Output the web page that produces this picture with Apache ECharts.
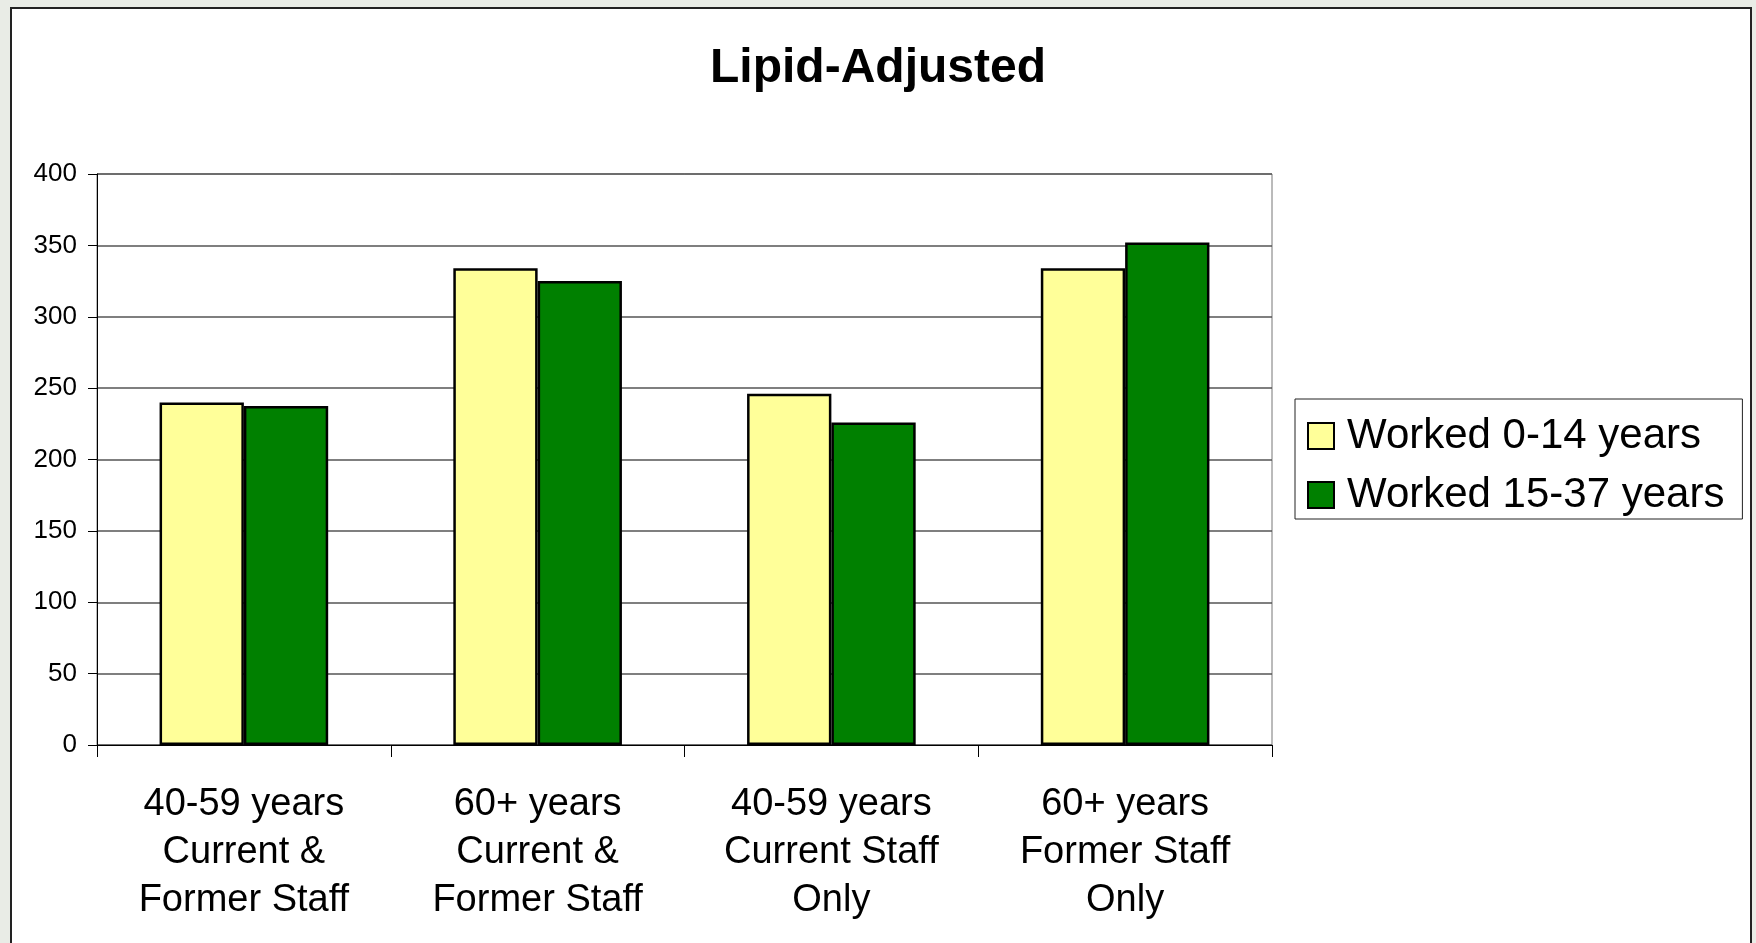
<!DOCTYPE html>
<html>
<head>
<meta charset="utf-8">
<title>Lipid-Adjusted</title>
<script src="https://cdn.jsdelivr.net/npm/echarts@6/dist/echarts.min.js"></script>
<style>
	html, body { margin: 0; padding: 0; background: #e9ece6; overflow: hidden; }
	#frame { position: absolute; left: 10px; top: 7px; width: 1738px; height: 1000px; background: #fff; border: 2px solid #222; }
	#main { position: absolute; left: 0; top: 0; width: 1756px; height: 943px; }
</style>
</head>
<body>
<div id="frame"></div>
<div id="main"></div>
<script>
// 分类 (x轴)
var categories = [ '40-59 years\nCurrent &\nFormer Staff', '60+ years\nCurrent &\nFormer Staff',
		'40-59 years\nCurrent Staff\nOnly', '60+ years\nFormer Staff\nOnly' ];
// 系列名称
var seriesNames = [ 'Worked 0-14 years', 'Worked 15-37 years' ];
// 数据
var worked0to14 = [ 240, 334, 246, 334 ];
var worked15to37 = [ 237.5, 325, 226, 352 ];
// y轴刻度
var yMin = 0, yMax = 400, yStep = 50;

var Chart = {
	domElement : document.getElementById('main'),
	show : function() {
		var charts = echarts.init(this.domElement, '', {
			width : 1756,
			height : 943
		});
		charts.setOption(this.options);
	},
	options : {
		animation : false,
		backgroundColor : 'transparent',
		textStyle : {
			fontFamily : '"Liberation Sans", Arial, sans-serif',
			color : '#000'
		},
		title : {
			text : 'Lipid-Adjusted',
			left : 'center',
			top : 40,
			textStyle : {
				fontSize : 48,
				fontWeight : 'bold',
				color : '#000'
			}
		},
		legend : {
			orient : 'vertical',
			left : 1295,
			top : 399,
			padding : [ 14, 18, 1, 12 ],
			itemGap : 13,
			itemWidth : 26,
			itemHeight : 26,
			borderColor : '#222',
			borderWidth : 1,
			backgroundColor : '#fff',
			icon : 'rect',
			data : seriesNames,
			textStyle : {
				fontSize : 42,
				lineHeight : 46,
				padding : [ 0, 0, 0, 8 ],
				color : '#000'
			}
		},
		grid : {
			left : 97,
			top : 174,
			width : 1175,
			height : 571,
			show : true,
			borderColor : '#777',
			borderWidth : 1,
			backgroundColor : 'transparent'
		},
		xAxis : [ {
			type : 'category',
			data : categories,
			axisLine : { lineStyle : { color : '#000', width : 1 } },
			axisTick : {
				show : true,
				alignWithLabel : false,
				length : 12,
				lineStyle : { color : '#000' }
			},
			axisLabel : {
				interval : 0,
				margin : 36,
				fontFamily : '"Liberation Sans Narrow", "Arial Narrow", "Liberation Sans", sans-serif',
				fontSize : 38,
				lineHeight : 48,
				color : '#000'
			}
		} ],
		yAxis : [ {
			type : 'value',
			min : yMin,
			max : yMax,
			interval : yStep,
			axisLine : { show : true, lineStyle : { color : '#000', width : 1 } },
			axisTick : { show : true, length : 9, lineStyle : { color : '#000' } },
			axisLabel : { fontSize : 26, margin : 20, color : '#000' },
			splitLine : { lineStyle : { color : '#555', width : 1.5 } }
		} ],
		series : [ {
			name : seriesNames[0],
			type : 'bar',
			data : worked0to14,
			barGap : '0%',
			barCategoryGap : '42.6%',
			itemStyle : { color : '#ffff99', borderColor : '#000', borderWidth : 2.5 }
		}, {
			name : seriesNames[1],
			type : 'bar',
			data : worked15to37,
			barGap : '0%',
			barCategoryGap : '42.6%',
			itemStyle : { color : '#008000', borderColor : '#000', borderWidth : 2.5 }
		} ]
	}
};

Chart.show();
</script>
</body>
</html>
